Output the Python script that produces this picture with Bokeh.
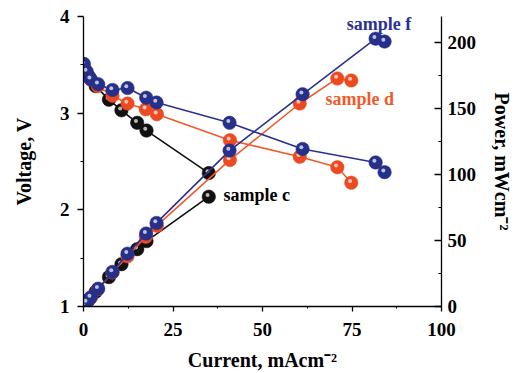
from bokeh.plotting import figure
from bokeh.models import Range1d, LinearAxis, FixedTicker, ColumnDataSource, Label
from bokeh.transform import dodge
from bokeh.embed import file_html
from bokeh.resources import INLINE

# ---- data ----
i_f = [0.1, 0.9, 2.0, 4.1, 8.1, 12.3, 17.5, 20.4, 40.8, 61.2, 81.6, 84.1]
v_f = [3.51, 3.43, 3.35, 3.30, 3.24, 3.26, 3.16, 3.11, 2.90, 2.63, 2.49, 2.39]
p_f = [0.4, 3.1, 6.9, 13.5, 26.2, 40.1, 55.3, 63.4, 118.3, 161.0, 203.2, 201.0]

i_d = [0.5, 2.0, 4.0, 8.1, 12.3, 17.4, 20.5, 40.9, 60.4, 70.9, 74.8]
v_d = [3.42, 3.35, 3.28, 3.18, 3.10, 3.04, 2.99, 2.72, 2.55, 2.44, 2.28]
p_d = [1.7, 6.7, 13.1, 25.8, 38.1, 52.9, 61.3, 111.2, 154.0, 173.0, 171.5]

i_c = [0.3, 1.5, 3.4, 7.1, 10.6, 15.0, 17.6, 35.0]
v_c = [3.45, 3.38, 3.28, 3.14, 3.03, 2.90, 2.82, 2.38]
p_c = [1.0, 5.1, 11.2, 22.3, 32.1, 43.5, 49.6, 83.3]

x_ticks = [0, 25, 50, 75, 100]
v_ticks = [1, 2, 3, 4]
p_ticks = [0, 50, 100, 150, 200]

BLUE = "#2B3192"
BLUE_M = "#26308A"
RED = "#F15A2B"
RED_M = "#EE4A22"
BLACK = "#111111"

FONT = "Liberation Serif"

p = figure(frame_width=358, frame_height=290, x_range=Range1d(0, 100), y_range=Range1d(1, 4),
           output_backend="svg", toolbar_location=None,
           min_border_left=83, min_border_right=70, min_border_top=16, min_border_bottom=60)
p.extra_y_ranges = {"power": Range1d(0, 220)}
p.outline_line_color = None
p.xgrid.visible = False
p.ygrid.visible = False
p.background_fill_color = "white"

def style_axis(ax, ticks, minor, tin, tout):
    ax.ticker = FixedTicker(ticks=ticks, minor_ticks=minor)
    ax.axis_line_color = "black"
    ax.axis_line_width = 1.3
    ax.major_tick_line_width = 1.3
    ax.minor_tick_line_width = 1.1
    ax.major_tick_in = tin
    ax.major_tick_out = tout
    ax.minor_tick_in = tin // 2 if tin else 0
    ax.minor_tick_out = tout // 2 if tout else 0
    ax.major_label_text_font = FONT
    ax.major_label_text_font_style = "bold"
    ax.major_label_text_font_size = "19px"
    ax.major_label_text_color = "black"
    ax.axis_label_text_font = FONT
    ax.axis_label_text_font_style = "bold"
    ax.axis_label_text_font_size = "20px"
    ax.axis_label_text_color = "black"

xa = p.xaxis[0]
style_axis(xa, x_ticks, [12.5, 37.5, 62.5, 87.5], 0, 5)
xa.axis_label = "Current, mAcm⁻²"
xa.major_label_standoff = 11
xa.axis_label_standoff = 10

ya = p.yaxis[0]
style_axis(ya, v_ticks, [1.5, 2.5, 3.5], 0, 6)
ya.axis_label = "Voltage, V"
ya.major_label_standoff = 8
ya.axis_label_standoff = 22

ra = LinearAxis(y_range_name="power")
style_axis(ra, p_ticks, [25, 75, 125, 175], 7, 0)
ra.axis_label = "Power, mWcm⁻²"
ra.major_label_standoff = 6
ra.axis_label_standoff = 12
p.add_layout(ra, "right")

def series(xs, vs, ps, line_col, mark_col):
    for ys, rng, dy in ((vs, "default", 0.018), (ps, "power", 1.3)):
        src = ColumnDataSource(dict(x=xs, y=ys))
        p.line("x", "y", source=src, line_color=line_col, line_width=1.6, y_range_name=rng)
        p.scatter("x", "y", source=src, size=13.5, fill_color=mark_col, line_color=mark_col,
                  line_width=0.5, y_range_name=rng)
        p.scatter(x=dodge("x", -0.35, range=p.x_range),
                  y=dodge("y", dy, range=p.extra_y_ranges["power"] if rng == "power" else p.y_range),
                  source=src, size=4, fill_color="white", fill_alpha=0.7, line_color=None,
                  y_range_name=rng)

series(i_c, v_c, p_c, BLACK, BLACK)
series(i_d, v_d, p_d, RED, RED_M)
series(i_f, v_f, p_f, BLUE, BLUE_M)

def lab(txt, x, y, col):
    p.add_layout(Label(x=x, y=y, text=txt, text_color=col, text_font=FONT,
                       text_font_style="bold", text_font_size="18px",
                       text_baseline="middle", text_align="left"))

lab("sample f", 73.5, 3.92, BLUE)
lab("sample d", 67.6, 3.15, RED)
lab("sample c", 39.1, 2.15, "black")

open("out.html", "w").write(file_html(p, INLINE))
